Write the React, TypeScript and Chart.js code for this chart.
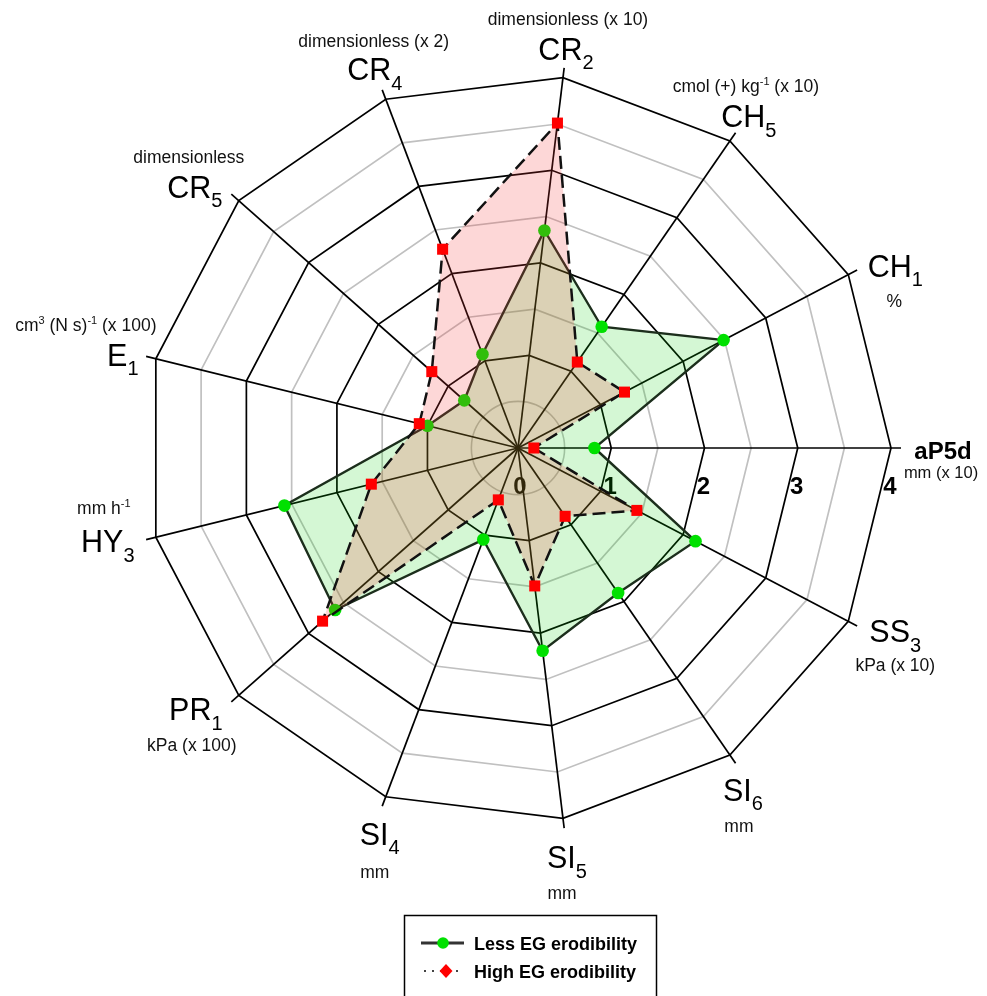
import React, { useEffect, useRef } from 'react';
import { Chart, registerables } from 'chart.js';

Chart.register(...registerables);

// ---- data (clockwise from the right-hand axis) ----
const CATEGORIES = ['aP5d', 'SS_{3}', 'SI_{6}', 'SI_{5}', 'SI_{4}', 'PR_{1}', 'HY_{3}', 'E_{1}', 'CR_{5}', 'CR_{4}', 'CR_{2}', 'CH_{5}', 'CH_{1}'];
const UNITS = ['mm (x 10)', 'kPa (x 10)', 'mm', 'mm', 'mm', 'kPa (x 100)', 'mm h^{-1}', 'cm^{3} (N s)^{-1} (x 100)', 'dimensionless', 'dimensionless (x 2)', 'dimensionless (x 10)', 'cmol (+) kg^{-1} (x 10)', '%'];
const LESS_EG = [0.82, 2.15, 1.89, 2.19, 1.05, 2.62, 2.58, 1.0, 0.77, 1.075, 2.35, 1.58, 2.49];
const HIGH_EG = [0.17, 1.44, 0.89, 1.49, 0.595, 2.8, 1.62, 1.09, 1.235, 2.28, 3.51, 1.12, 1.29];
const TICK_VALUES = [0, 1, 2, 3, 4];
const TICK_LABELS = ['0', '1', '2', '3', '4'];
const SERIES_NAMES = ['Less EG erodibility', 'High EG erodibility'];

// ---- layout (label offsets relative to each outer vertex: main centre x/baseline, unit centre x/baseline) ----
const LABEL_LAYOUT = [
  { mx: 52, my: 11, ux: 50, uy: 30 },
  { mx: 47, my: 21, ux: 47, uy: 50 },
  { mx: 13, my: 46, ux: 9, uy: 77 },
  { mx: 4, my: 50, ux: -1, uy: 81 },
  { mx: -6, my: 48, ux: -11, uy: 81 },
  { mx: -43, my: 25, ux: -47, uy: 56 },
  { mx: -48, my: 15, ux: -52, uy: -23 },
  { mx: -33, my: 7, ux: -70, uy: -28 },
  { mx: -44, my: -3, ux: -50, uy: -38 },
  { mx: -11, my: -19, ux: -12, uy: -52 },
  { mx: 3, my: -18, ux: 5, uy: -53 },
  { mx: 19, my: -14, ux: 16, uy: -49 },
  { mx: 47, my: 2, ux: 46, uy: 32 },
];

const FONT = '"Liberation Sans", Arial, Helvetica, sans-serif';

type Seg = { t: string; k: 'n' | 'sub' | 'sup' };
function parseRich(s: string): Seg[] {
  const segs: Seg[] = [];
  const re = /([_^])\{([^}]*)\}/g;
  let last = 0;
  let m: RegExpExecArray | null;
  while ((m = re.exec(s))) {
    if (m.index > last) segs.push({ t: s.slice(last, m.index), k: 'n' });
    segs.push({ t: m[2], k: m[1] === '_' ? 'sub' : 'sup' });
    last = re.lastIndex;
  }
  if (last < s.length) segs.push({ t: s.slice(last), k: 'n' });
  return segs;
}

type FontSpec = { n: number; sub: number; subShift: number; sup: number; supShift: number; weight: string };
function drawRich(ctx: CanvasRenderingContext2D, segs: Seg[], cx: number, baseline: number, f: FontSpec, color: string) {
  const fontFor = (k: string) => {
    const size = k === 'n' ? f.n : k === 'sub' ? f.sub : f.sup;
    return `${f.weight} ${size}px ${FONT}`;
  };
  let total = 0;
  const widths = segs.map((s) => {
    ctx.font = fontFor(s.k);
    const w = ctx.measureText(s.t).width;
    total += w;
    return w;
  });
  let x = cx - total / 2;
  ctx.fillStyle = color;
  ctx.textAlign = 'left';
  ctx.textBaseline = 'alphabetic';
  segs.forEach((s, i) => {
    ctx.font = fontFor(s.k);
    const dy = s.k === 'sub' ? f.subShift : s.k === 'sup' ? f.supShift : 0;
    ctx.fillText(s.t, x, baseline + dy);
    x += widths[i];
  });
}

const MAIN_FONT: FontSpec = { n: 30.5, sub: 20, subShift: 9.5, sup: 12, supShift: -10, weight: 'normal' };
const BOLD_FONT: FontSpec = { n: 24, sub: 16, subShift: 6, sup: 12, supShift: -8, weight: 'bold' };
const UNIT_FONT: FontSpec = { n: 17.5, sub: 11, subShift: 4, sup: 11, supShift: -7, weight: 'normal' };

const backgroundPlugin = {
  id: 'radarExtras',
  beforeDatasetsDraw(chart: any) {
    const ctx: CanvasRenderingContext2D = chart.ctx;
    const scale = chart.scales.r;
    const cx = scale.xCenter;
    const cy = scale.yCenter;
    ctx.save();
    // inner circular grid at 0.5
    ctx.strokeStyle = '#c0c0c0';
    ctx.lineWidth = 1.6;
    ctx.beginPath();
    ctx.arc(cx, cy, scale.getDistanceFromCenterForValue(0.5), 0, Math.PI * 2);
    ctx.stroke();
    // angle lines (extend a little beyond the outer ring)
    ctx.strokeStyle = '#000';
    ctx.lineWidth = 1.7;
    for (let i = 0; i < CATEGORIES.length; i++) {
      const p = scale.getPointPosition(i, scale.drawingArea + 10);
      ctx.beginPath();
      ctx.moveTo(cx, cy);
      ctx.lineTo(p.x, p.y);
      ctx.stroke();
    }
    // tick labels
    ctx.font = `bold 24px ${FONT}`;
    ctx.fillStyle = '#000';
    ctx.textAlign = 'center';
    ctx.textBaseline = 'alphabetic';
    TICK_VALUES.forEach((v, i) => {
      const p = scale.getPointPositionForValue(0, v);
      ctx.fillText(TICK_LABELS[i], p.x + (v === 0 ? 2 : -1), cy + 46);
    });
    ctx.restore();
  },
  afterDraw(chart: any) {
    const ctx: CanvasRenderingContext2D = chart.ctx;
    const scale = chart.scales.r;
    ctx.save();
    CATEGORIES.forEach((cat, i) => {
      const v = scale.getPointPosition(i, scale.drawingArea);
      const L = LABEL_LAYOUT[i];
      drawRich(ctx, parseRich(cat), v.x + L.mx, v.y + L.my, i === 0 ? BOLD_FONT : MAIN_FONT, '#000');
      drawRich(ctx, parseRich(UNITS[i]), v.x + L.ux, v.y + L.uy, i === 0 ? { ...UNIT_FONT, n: 16.5 } : UNIT_FONT, '#111');
    });

    // legend box
    ctx.strokeStyle = '#000';
    ctx.lineWidth = 1.5;
    ctx.strokeRect(404.5, 915.5, 252, 100);
    // entry 1
    ctx.strokeStyle = '#333';
    ctx.lineWidth = 3;
    ctx.beginPath();
    ctx.moveTo(421, 943);
    ctx.lineTo(464, 943);
    ctx.stroke();
    ctx.fillStyle = '#00e000';
    ctx.beginPath();
    ctx.arc(443, 943, 5.8, 0, Math.PI * 2);
    ctx.fill();
    // entry 2
    ctx.strokeStyle = '#444';
    ctx.lineWidth = 2;
    ctx.setLineDash([2, 6]);
    ctx.beginPath();
    ctx.moveTo(424, 971);
    ctx.lineTo(464, 971);
    ctx.stroke();
    ctx.setLineDash([]);
    ctx.fillStyle = '#ff0000';
    ctx.beginPath();
    ctx.moveTo(446, 964);
    ctx.lineTo(452.5, 971);
    ctx.lineTo(446, 978);
    ctx.lineTo(439.5, 971);
    ctx.closePath();
    ctx.fill();
    ctx.fillStyle = '#000';
    ctx.font = `bold 18px ${FONT}`;
    ctx.textAlign = 'left';
    ctx.textBaseline = 'alphabetic';
    ctx.fillText(SERIES_NAMES[0], 474, 950);
    ctx.fillText(SERIES_NAMES[1], 474, 978);
    ctx.restore();
  },
};

export default function App() {
  const canvasRef = useRef<HTMLCanvasElement | null>(null);
  useEffect(() => {
    if (!canvasRef.current) return;
    const chart = new Chart(canvasRef.current, {
      type: 'radar',
      data: {
        labels: CATEGORIES,
        datasets: [
          {
            label: SERIES_NAMES[1],
            data: HIGH_EG,
            order: 0,
            fill: true,
            backgroundColor: 'rgba(245,55,55,0.2)',
            borderColor: '#111',
            borderWidth: 2.5,
            borderDash: [13, 6],
            pointStyle: 'rect',
            pointRadius: 7.8,
            pointBackgroundColor: '#ff0000',
            pointBorderWidth: 0,
            pointHoverRadius: 7.8,
          },
          {
            label: SERIES_NAMES[0],
            data: LESS_EG,
            order: 1,
            fill: true,
            backgroundColor: 'rgba(0,210,0,0.17)',
            borderColor: '#1c2e1c',
            borderWidth: 2.4,
            pointStyle: 'circle',
            pointRadius: 6.3,
            pointBackgroundColor: '#00e000',
            pointBorderWidth: 0,
            pointHoverRadius: 6.3,
          },
        ],
      },
      options: {
        responsive: false,
        devicePixelRatio: 1,
        animation: false,
        layout: { padding: { left: 145, right: 96, top: 75, bottom: 175 } },
        plugins: { legend: { display: false }, tooltip: { enabled: false } },
        elements: { line: { tension: 0 } },
        scales: {
          r: {
            min: 0,
            max: 4,
            startAngle: 90,
            ticks: { display: false, stepSize: 0.5 },
            grid: {
              color: (ctx: any) => {
                const v = ctx.tick ? ctx.tick.value : 0;
                if (Math.abs(v - 0.5) < 1e-6) return 'rgba(0,0,0,0)';
                return Math.abs(v - Math.round(v)) < 1e-6 ? '#000' : '#c0c0c0';
              },
              lineWidth: 1.7,
            },
            angleLines: { display: false },
            pointLabels: { display: false },
          },
        },
      },
      plugins: [backgroundPlugin],
    } as any);
    return () => chart.destroy();
  }, []);
  return (
    <canvas
      ref={canvasRef}
      width={987}
      height={996}
      style={{ position: 'absolute', left: 0, top: 0, width: 987, height: 996 }}
    />
  );
}
